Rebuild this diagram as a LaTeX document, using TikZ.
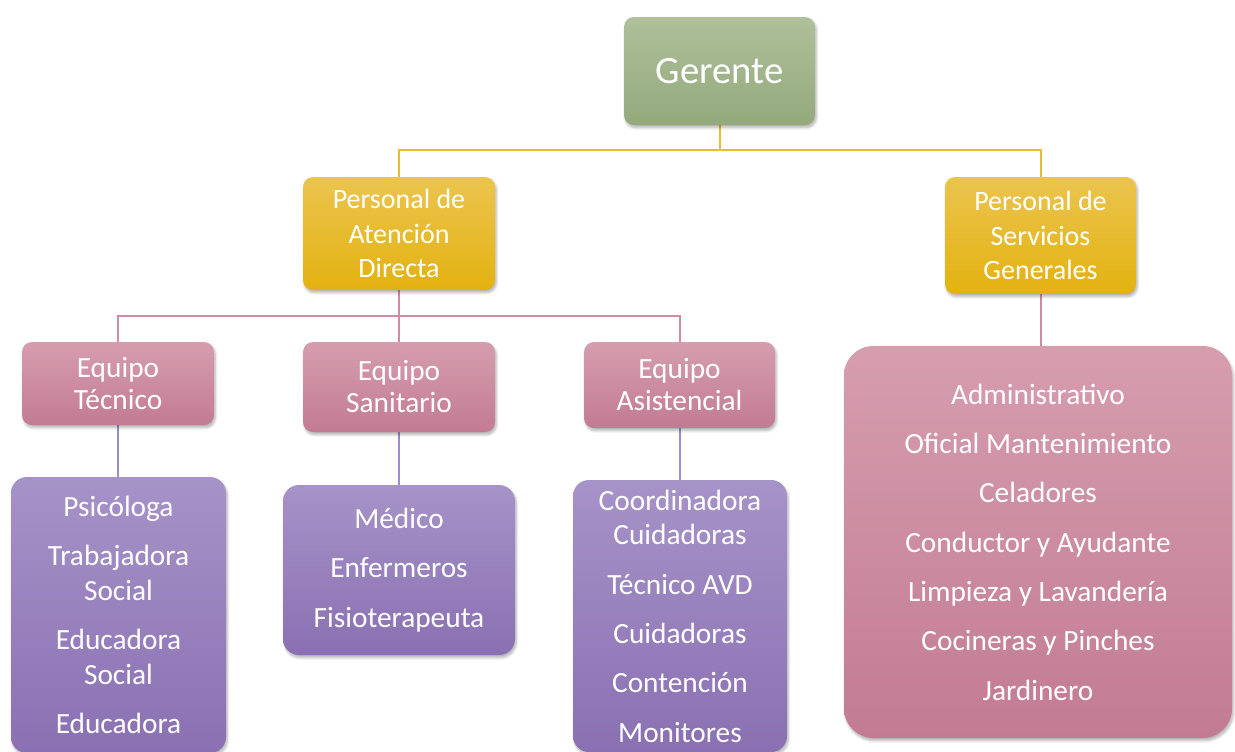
\documentclass[tikz,border=0pt]{standalone}
\usepackage{fontspec}
\setmainfont{Carlito}
\usetikzlibrary{shadows.blur,backgrounds}
\definecolor{gold}{HTML}{E8BE30}
\definecolor{rose}{HTML}{D08CA3}
\definecolor{lilac}{HTML}{A08CCC}
\definecolor{sagetop}{HTML}{AFC09A}
\definecolor{sagebot}{HTML}{94A97C}
\definecolor{goldtop}{HTML}{EBC44E}
\definecolor{goldbot}{HTML}{E3B210}
\definecolor{rosetop}{HTML}{D69DAF}
\definecolor{rosebot}{HTML}{C27B93}
\definecolor{lilactop}{HTML}{A693C8}
\definecolor{lilacbot}{HTML}{8A70B2}
\begin{document}
\begin{tikzpicture} [
  x=0.75pt, y=-0.75pt,
  box node/.style= {rounded corners=7.5pt, inner sep=0, align=center, text=white,
    blur shadow={shadow blur steps=6, shadow xshift=1pt, shadow yshift=-2pt, shadow opacity=30}},
  boss node/.style= {box node, top color=sagetop, bottom color=sagebot, font=\fontsize{29}{34}\selectfont},
  gold node/.style= {box node, top color=goldtop, bottom color=goldbot, font=\fontsize{21}{26}\selectfont},
  team node/.style= {box node, top color=rosetop, bottom color=rosebot, font=\fontsize{22}{24}\selectfont},
  list node/.style= {box node, rounded corners=12pt, top color=lilactop, bottom color=lilacbot,
    font=\fontsize{22}{26}\selectfont},
  big node/.style= {box node, rounded corners=22pt, top color=rosetop, bottom color=rosebot,
    font=\fontsize{22}{26}\selectfont},
  gold link/.style= {draw=gold, line width=1.5pt},
  rose link/.style= {draw=rose, line width=1.5pt},
  lilac link/.style= {draw=lilac, line width=1.5pt},
]
\useasboundingbox (0,0) rectangle (1235,751);
% first level
\node (ger) [boss node, minimum width=143.25pt, minimum height=81pt] at (719.5,71) {Gerente};
\node (pad) [gold node, minimum width=144pt, minimum height=84.75pt] at (399,233.5) {Personal de\\Atención\\Directa};
\node (psg) [gold node, minimum width=143.25pt, minimum height=87.75pt] at (1040.5,235.5) {Personal de\\Servicios\\Generales};
% teams
\node (tec) [team node, minimum width=144pt, minimum height=62.25pt] at (118,383.5) {Equipo\\Técnico};
\node (san) [team node, minimum width=144pt, minimum height=67.5pt] at (399,387) {Equipo\\Sanitario};
\node (asi) [team node, minimum width=143.25pt, minimum height=64.5pt] at (679.5,385) {Equipo\\Asistencial};
% staff lists
\node (ltec) [list node, minimum width=161.25pt, minimum height=207pt] at (118.5,615)
  {Psicóloga\\[11pt] Trabajadora\\Social\\[11pt] Educadora\\Social\\[11pt] Educadora};
\node (lsan) [list node, minimum width=174pt, minimum height=127.5pt] at (399,570)
  {Médico\\[11pt] Enfermeros\\[11pt] Fisioterapeuta};
\node (lasi) [list node, minimum width=160.5pt, minimum height=204pt] at (680,616)
  {Coordinadora\\Cuidadoras\\[11pt] Técnico AVD\\[11pt] Cuidadoras\\[11pt] Contención\\[11pt] Monitores};
\node (lgen) [big node, minimum width=291pt, minimum height=294pt] at (1038,542)
  {Administrativo\\[11pt] Oficial Mantenimiento\\[11pt] Celadores\\[11pt] Conductor y Ayudante\\[11pt]
   Limpieza y Lavandería\\[11pt] Cocineras y Pinches\\[11pt] Jardinero};
% connectors
\begin{scope}[on background layer]
\path [gold link] (ger.south) -- ++(0,25) -| (pad.north);
\path [gold link] (ger.south) -- ++(0,25) -| (psg.north);
\path [rose link] (pad.south) -- ++(0,26) -| (tec.north);
\path [rose link] (pad.south) -- (san.north);
\path [rose link] (pad.south) -- ++(0,26) -| (asi.north);
\path [rose link] (psg.south) -- (psg.south |- lgen.north);
\path [lilac link] (tec.south) -- (tec.south |- ltec.north);
\path [lilac link] (san.south) -- (san.south |- lsan.north);
\path [lilac link] (asi.south) -- (asi.south |- lasi.north);
\end{scope}
\end{tikzpicture}
\end{document}
